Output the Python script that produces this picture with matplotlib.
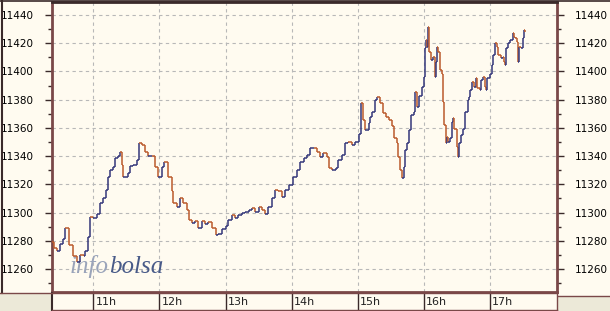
import matplotlib.pyplot as plt
from matplotlib.collections import LineCollection
from matplotlib.patches import Rectangle
from matplotlib.lines import Line2D
from matplotlib.ticker import MultipleLocator

# --Data: minutes since midnight and index level
minutes = [622, 624, 627, 630, 632, 634, 638, 641, 645, 648, 651, 652, 655, 657,
           660, 663, 666, 669, 671, 673, 675, 678, 680, 682, 684, 686, 687, 691,
           693, 696, 700, 701, 704, 707, 710, 713, 716, 719, 722, 724, 728, 731,
           732, 736, 739, 741, 745, 747, 750, 752, 755, 759, 761, 764, 768, 771,
           773, 777, 780, 782, 786, 789, 791, 795, 798, 801, 804, 807, 810, 813,
           816, 819, 822, 825, 828, 831, 834, 838, 841, 845, 848, 851, 854, 857,
           860, 863, 866, 869, 872, 874, 877, 880, 882, 886, 889, 891, 895, 898,
           901, 903, 905, 907, 910, 911, 913, 916, 918, 920, 923, 926, 929, 931,
           933, 936, 937, 939, 940, 942, 943, 945, 947, 949, 951, 952, 954, 956,
           959, 960, 961, 962, 963, 964, 965, 967, 969, 970, 971, 972, 973, 975,
           977, 978, 979, 980, 981, 982, 984, 986, 987, 988, 990, 991, 992, 994,
           996, 998, 1000, 1001, 1002, 1004, 1006, 1008, 1009, 1011, 1012, 1014,
           1016, 1017, 1018, 1020, 1022, 1023, 1025, 1027, 1028, 1030, 1032, 1033,
           1034, 1035, 1037, 1039, 1041, 1042, 1043, 1045, 1046, 1047, 1049, 1050,
           1051, 1052]
prices = [11279, 11275, 11273, 11278, 11281, 11289, 11277, 11269, 11265, 11270,
          11269, 11273, 11283, 11297, 11296, 11299, 11307, 11310, 11316, 11325,
          11330, 11332.5, 11338.5, 11340, 11343, 11334, 11325.5, 11328, 11333,
          11334, 11337, 11349, 11348, 11343, 11340, 11340, 11332.5, 11325.5,
          11332.5, 11336, 11325, 11315, 11306.5, 11304, 11310, 11306.5, 11302,
          11295, 11292.5, 11294, 11289, 11294, 11292, 11293, 11289, 11284, 11285,
          11288, 11290.5, 11295, 11298, 11296, 11298, 11299.5, 11300.5, 11302,
          11303, 11300.5, 11304, 11302, 11299, 11304, 11310, 11316, 11315, 11311,
          11316, 11319.5, 11325.5, 11330, 11336, 11338.5, 11341, 11345.5, 11345.5,
          11343, 11339.5, 11342, 11339.5, 11331.5, 11330, 11331.5, 11337, 11341,
          11349, 11350, 11348, 11350, 11356, 11377.5, 11365.5, 11358.5, 11363.5,
          11368, 11371.5, 11380, 11382, 11377.5, 11370.5, 11368, 11365.5, 11361,
          11352.5, 11349, 11339.5, 11330, 11324.5, 11332, 11344.5, 11349, 11358.5,
          11369, 11371.5, 11385.5, 11375, 11382.5, 11389, 11396, 11416.5, 11422.5,
          11417.5, 11431.5, 11414, 11408, 11410, 11396, 11406.5, 11417.5, 11414,
          11401, 11398.5, 11378.5, 11362, 11349, 11353.5, 11350, 11352.5, 11364.5,
          11367, 11359.5, 11346.5, 11339.5, 11349, 11355, 11359.5, 11371.5, 11380,
          11382, 11387, 11392.5, 11389, 11395, 11388, 11387, 11394, 11396, 11389,
          11387, 11395, 11398.5, 11404.5, 11411.5, 11420, 11417.5, 11411.5,
          11409.5, 11410.5, 11407, 11404.5, 11416.5, 11420, 11422.5, 11427,
          11424.5, 11423.5, 11421, 11407, 11417.5, 11416.5, 11423.5, 11429.5,
          11428]
hour_ticks = [660, 720, 780, 840, 900, 960, 1020]
hour_labels = ['11h', '12h', '13h', '14h', '15h', '16h', '17h']
y_ticks = list(range(11260, 11441, 20))

cream = '#fffbf0'
grey = '#ece9d8'
up_col = '#34377a'
down_col = '#bb5a2c'
frame = '#7a4848'
dark = '#3a2a2a'

W, H = 610, 311


def fx(px):
    return px / W


def fy(py):
    return 1 - py / H


fig = plt.figure(figsize=(W / 100, H / 100), dpi=100, facecolor=cream)

# grey corners at the bottom
fig.add_artist(Rectangle((0, 0), fx(52), fy(293), transform=fig.transFigure,
                         facecolor=grey, edgecolor='none', zorder=0))
fig.add_artist(Rectangle((fx(558), 0), 1 - fx(558), fy(296), transform=fig.transFigure,
                         facecolor=grey, edgecolor='none', zorder=0))

# outer frame lines
fig.add_artist(Line2D([fx(2), fx(2)], [fy(0), fy(293)], transform=fig.transFigure,
                      color=dark, lw=1.5))
fig.add_artist(Line2D([0, 1], [fy(0.5), fy(0.5)], transform=fig.transFigure,
                      color=dark, lw=1.2))
fig.add_artist(Line2D([0, fx(52)], [fy(292.5), fy(292.5)], transform=fig.transFigure,
                      color=frame, lw=1))
fig.add_artist(Line2D([fx(558), 1], [fy(295.5), fy(295.5)], transform=fig.transFigure,
                      color=frame, lw=1))

ax = fig.add_axes([fx(52), fy(292), fx(557) - fx(52), fy(2) - fy(292)])
ax.set_facecolor(cream)
ax.set_xlim(622.3, 1081.3)
ax.set_ylim(11243.7, 11449.2)

# price path as little up / down bars
segs, cols = [], []
for i in range(1, len(prices)):
    c = up_col if prices[i] >= prices[i - 1] else down_col
    segs.append([(minutes[i - 1], prices[i - 1]), (minutes[i], prices[i - 1])])
    cols.append(c)
    segs.append([(minutes[i], prices[i - 1]), (minutes[i], prices[i])])
    cols.append(c)
ax.add_collection(LineCollection(segs, colors=cols, linewidths=1.1, zorder=3))

ax.set_yticks(y_ticks)
ax.yaxis.set_minor_locator(MultipleLocator(10))
ax.set_xticks(hour_ticks)
ax.tick_params(axis='x', length=0, labelbottom=False)
ax.tick_params(axis='y', which='major', length=5, width=1, color=dark,
               left=True, right=True, labelleft=True, labelright=True,
               labelsize=7.5, pad=8)
ax.tick_params(axis='y', which='minor', length=3, width=1, color=dark,
               left=True, right=True)
ax.grid(True, color='#b8b8b8', linestyle=(0, (3, 3)), linewidth=0.8)
ax.set_axisbelow(True)

for side in ['left', 'right', 'bottom']:
    ax.spines[side].set_color(frame)
    ax.spines[side].set_linewidth(2)
ax.spines['top'].set_color(dark)
ax.spines['top'].set_linewidth(2)

# watermark
wm = ax.text(0.034, 0.067, 'info', transform=ax.transAxes, fontsize=18,
             fontfamily='Liberation Serif', style='italic', color='#9aa4ba',
             va='baseline', zorder=1)
ax.annotate('bolsa', xy=(1, 0), xycoords=wm, xytext=(1, 0),
            textcoords='offset points', fontsize=18, fontfamily='Liberation Serif',
            style='italic', color='#485a88', va='bottom', zorder=1)

# hour strip below the plot
sax = fig.add_axes([fx(52), fy(310), fx(557) - fx(52), fy(293) - fy(310)])
sax.set_facecolor(cream)
sax.set_xlim(ax.get_xlim())
sax.set_ylim(0, 1)
sax.set_xticks([])
sax.set_yticks([])
for side in sax.spines:
    sax.spines[side].set_color(frame)
    sax.spines[side].set_linewidth(1)
sax.spines['left'].set_color(dark)
sax.spines['left'].set_linewidth(1.5)
for m, lab in zip(hour_ticks, hour_labels):
    sax.axvline(m, color=dark, lw=1)
    sax.text(m + 2, 0.45, lab, fontsize=8, va='center', ha='left', color='#222222')

fig.savefig('out.png', dpi=100, facecolor=cream)
